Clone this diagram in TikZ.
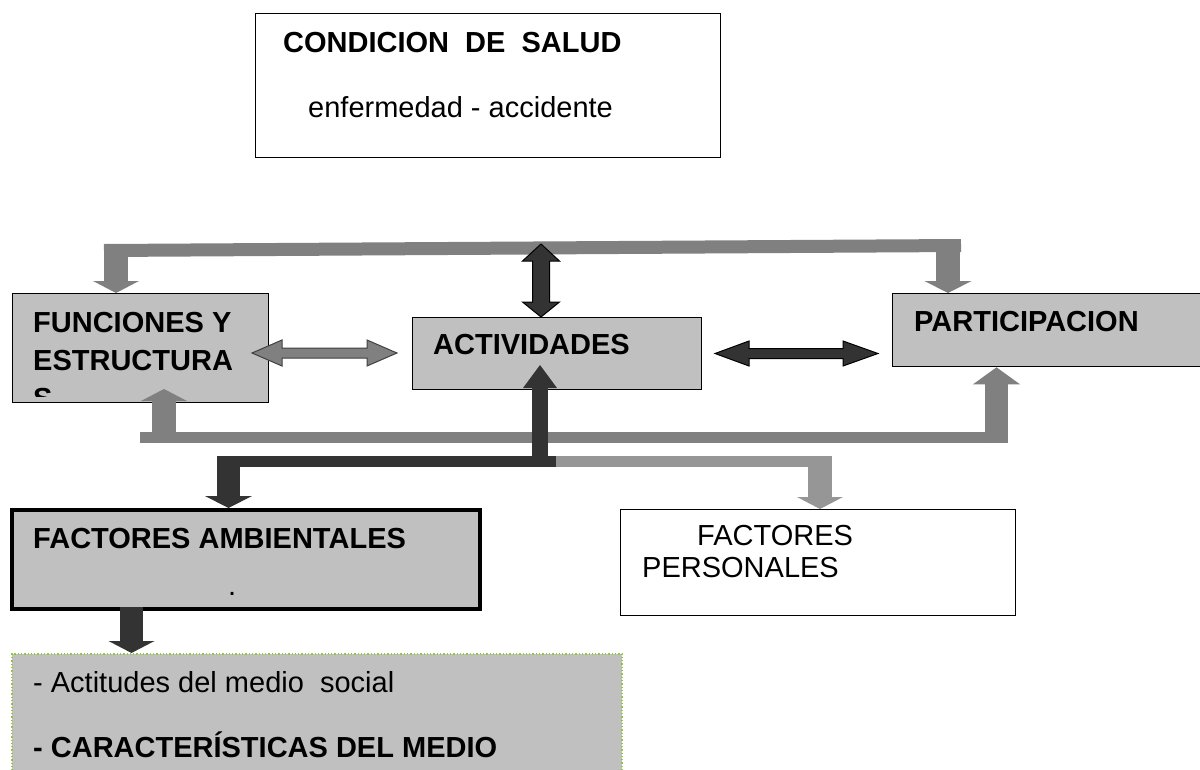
\documentclass[tikz,border=0pt]{standalone}
\usepackage{fontspec}
\setmainfont{Liberation Sans}
\usetikzlibrary{arrows.meta}

\definecolor{boxgray}{HTML}{C0C0C0}
\definecolor{barmid}{HTML}{808080}
\definecolor{barlight}{HTML}{969696}
\definecolor{bardark}{HTML}{333333}
\definecolor{dotgreen}{HTML}{92C83E}

\tikzset{
   box/.style={draw=black, line width=1.3pt, inner sep=0pt, anchor=north west},
   graybox/.style={box, fill=boxgray},
   txt/.style={anchor=base west, inner sep=0pt, font=\fontsize{29}{38}\selectfont},
   btxt/.style={txt, font=\fontsize{29}{38}\selectfont\bfseries},
   barline/.style={line width=#1, line cap=butt},
   blockhead/.style args={#1/#2}{-{Triangle[length=#1, width=#2, line width=0pt]}}
}

\begin{document}
\begin{tikzpicture}[x=1pt,y=-1pt]
  % Page
  \path[use as bounding box] (0,0) rectangle (1200,769);
  \clip (0,0) rectangle (1200,769);

  % Boxes
  \node[box, minimum width=465pt, minimum height=144pt] (cond) at (255,13) {};
  \node[graybox, minimum width=256pt, minimum height=109pt] (fun) at (12,293) {};
  \node[graybox, minimum width=289pt, minimum height=72pt] (act) at (412,317) {};
  \node[graybox, minimum width=330pt, minimum height=73pt] (part) at (892,293) {};
  \node[graybox, line width=3.5pt, minimum width=468pt, minimum height=99pt] (amb) at (10,508) {};
  \node[box, minimum width=395pt, minimum height=106pt] (pers) at (620,509) {};
  \node[box, fill=boxgray, draw=dotgreen, dotted, line width=2pt,
        minimum width=610pt, minimum height=130pt] (medio) at (11,653) {};

  % Texts
  \node[btxt] (condT) at (283,52) {CONDICION~~DE~~SALUD};
  \node[txt] (condS) at (308,117) {enfermedad - accidente};
  \node[btxt] (funA) at (33,332) {FUNCIONES Y};
  \node[btxt] (funB) at (33,370) {ESTRUCTURA};
  \begin{scope}
    \clip (fun.north west) rectangle ([yshift=7pt]fun.south east);
    \node[btxt] (funC) at (33,408) {S};
  \end{scope}
  \node[btxt] (actT) at (433,354) {ACTIVIDADES};
  \node[btxt] (partT) at (914,331) {PARTICIPACION};
  \node[btxt] (ambT) at (33,548) {FACTORES AMBIENTALES};
  \node[txt] (ambDot) at (228,595) {.};
  \node[txt] (persA) at (697,545) {FACTORES};
  \node[txt] (persB) at (642,577) {PERSONALES};
  \node[txt] (medA) at (33,692) {- Actitudes del medio~~social};
  \node[btxt] (medB) at (33,757) {- CARACTERÍSTICAS DEL MEDIO};

  % Upper loop
  \draw[barline=13pt, barmid] (104,250.5) -- (961,245.5);
  \coordinate (funIn) at (116,244);
  \coordinate (partIn) at (948,239);
  \draw[barline=24pt, barmid, blockhead=12pt/46pt] (funIn) -- (funIn |- fun.north);
  \draw[barline=24pt, barmid, blockhead=12pt/47pt] (partIn) -- (partIn |- part.north);

  % Lower loop
  \draw[barline=11pt, barmid] (140,437.5) -- (1008,437.5);
  \coordinate (funUp) at (164,443);
  \coordinate (partUp) at (996.5,443);
  \draw[barline=24pt, barmid, blockhead=12pt/46pt] (funUp) -- (164,389);
  \draw[barline=23pt, barmid, blockhead=17pt/47pt] (partUp) -- (partUp |- part.south);

  % Branch to the factors
  \draw[barline=11pt, bardark] (217,461.5) -- (556,461.5);
  \draw[barline=11pt, barlight] (556,461.5) -- (832,461.5);
  \coordinate (ambIn) at (228.5,456);
  \coordinate (persIn) at (820,456);
  \coordinate (actUp) at (540,467);
  \draw[barline=23pt, bardark, blockhead=12pt/47pt] (ambIn) -- (ambIn |- amb.north);
  \draw[barline=24pt, barlight, blockhead=12pt/46pt] (persIn) -- (persIn |- pers.north);
  \draw[barline=16pt, bardark, blockhead=23pt/34pt] (actUp) -- (540,365);

  % Down to the environment
  \coordinate (ambOut) at (131.5,607);
  \draw[barline=23pt, bardark, blockhead=12pt/46pt] (ambOut) -- (ambOut |- medio.north);

  % Double arrows
  \filldraw[fill=barmid, draw=black!75, line width=1pt]
    (252,353) -- (282,340) -- (282,348) -- (367,348) -- (367,340) -- (397,353)
    -- (367,366) -- (367,358) -- (282,358) -- (282,366) -- cycle;
  \filldraw[fill=bardark, draw=black, line width=1pt]
    (715,353.5) -- (749,341) -- (749,348.5) -- (843,348.5) -- (843,341) -- (878,353.5)
    -- (843,366) -- (843,358.5) -- (749,358.5) -- (749,366) -- cycle;
  \filldraw[fill=bardark, draw=black, line width=1pt]
    (541,244) -- (559.5,261) -- (549.5,261) -- (549.5,302) -- (559.5,302) -- (541,317)
    -- (522.5,302) -- (532.5,302) -- (532.5,261) -- (522.5,261) -- cycle;
\end{tikzpicture}
\end{document}
